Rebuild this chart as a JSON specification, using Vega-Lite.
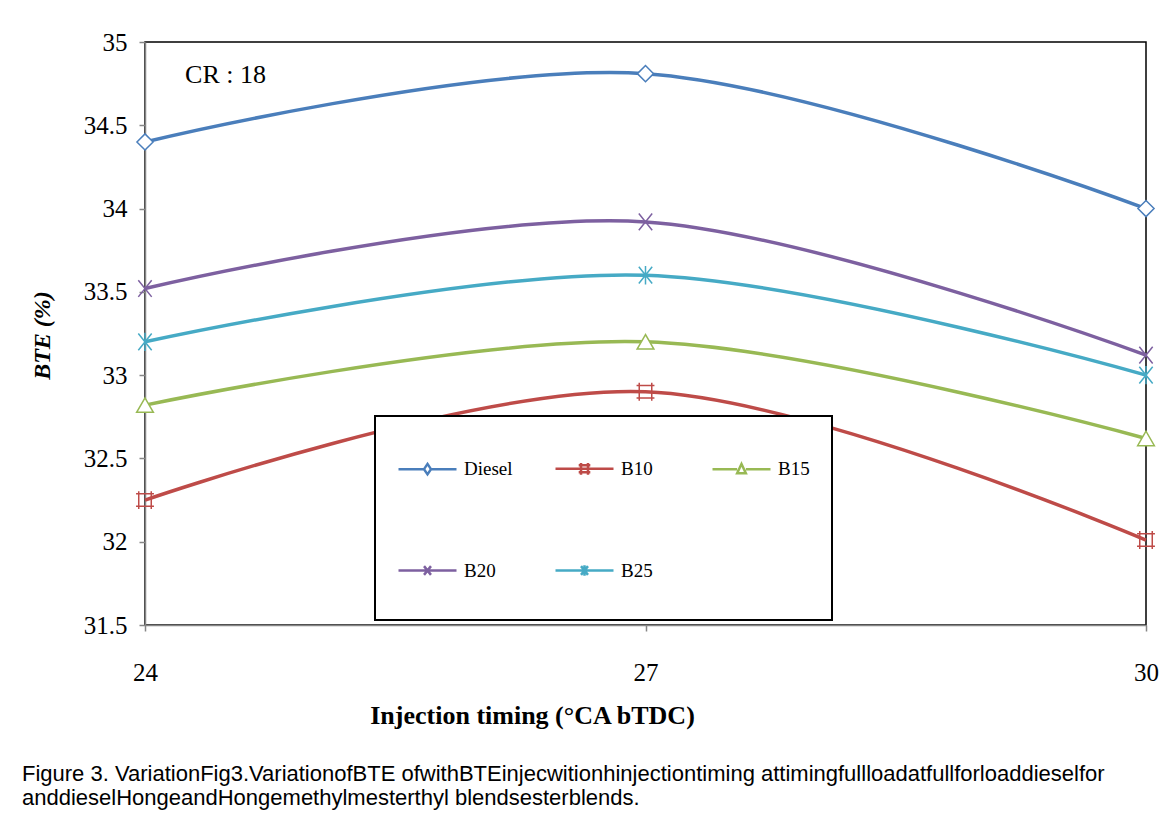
{
  "$schema": "https://vega.github.io/schema/vega-lite/v6.json",
  "autosize": {"type": "none"},
  "padding": {"left": 145, "top": 42, "right": 25, "bottom": 192},
  "width": 1001,
  "height": 583,
  "background": "white",
  "config": {
    "view": {"stroke": "#000000", "strokeWidth": 1.5},
    "font": "Liberation Serif"
  },
  "title": {
    "text": ["Figure 3. VariationFig3.VariationofBTE ofwithBTEinjecwitionhinjectiontiming attimingfullloadatfullforloaddieselfor", "anddieselHongeandHongemethylmesterthyl blendsesterblends."],
    "orient": "bottom",
    "anchor": "start",
    "frame": "group",
    "dx": -123,
    "offset": 36,
    "font": "Liberation Sans",
    "fontSize": 22,
    "fontWeight": "normal",
    "color": "#000000",
    "lineHeight": 24,
    "baseline": "top"
  },
  "data": {
    "values": [
      {"fuel": "Diesel", "timing": 24, "bte": 34.4},
      {"fuel": "Diesel", "timing": 27, "bte": 34.81},
      {"fuel": "Diesel", "timing": 30, "bte": 34.0},
      {"fuel": "B10", "timing": 24, "bte": 32.25},
      {"fuel": "B10", "timing": 27, "bte": 32.9},
      {"fuel": "B10", "timing": 30, "bte": 32.01},
      {"fuel": "B15", "timing": 24, "bte": 32.82},
      {"fuel": "B15", "timing": 27, "bte": 33.2},
      {"fuel": "B15", "timing": 30, "bte": 32.62},
      {"fuel": "B20", "timing": 24, "bte": 33.52},
      {"fuel": "B20", "timing": 27, "bte": 33.92},
      {"fuel": "B20", "timing": 30, "bte": 33.12},
      {"fuel": "B25", "timing": 24, "bte": 33.2},
      {"fuel": "B25", "timing": 27, "bte": 33.6},
      {"fuel": "B25", "timing": 30, "bte": 33.0}
    ]
  },
  "encoding": {
    "x": {
      "field": "timing", "type": "quantitative",
      "scale": {"domain": [24, 30], "nice": false, "zero": false},
      "axis": {
        "values": [24, 27, 30], "format": "d", "grid": false,
        "title": "Injection timing (°CA bTDC)",
        "titleFont": "Liberation Serif", "titleFontSize": 26, "titleFontWeight": "bold", "titleColor": "#000000",
        "titleX": 387, "titleY": 90, "titleBaseline": "middle", "titleAnchor": "middle", "titleAlign": "center",
        "labelFont": "Liberation Serif", "labelFontSize": 25, "labelColor": "#000000", "labelPadding": 29,
        "labelFlush": false,
        "domainColor": "#868686", "domainWidth": 1.5, "tickColor": "#868686", "tickWidth": 1.5, "tickSize": 6
      }
    },
    "y": {
      "field": "bte", "type": "quantitative",
      "scale": {"domain": [31.5, 35], "nice": false, "zero": false},
      "axis": {
        "values": [31.5, 32, 32.5, 33, 33.5, 34, 34.5, 35], "format": "~g", "grid": false,
        "title": "BTE (%)",
        "titleFont": "Liberation Serif", "titleFontSize": 24, "titleFontWeight": "bold", "titleFontStyle": "italic", "titleColor": "#000000",
        "titleX": -103, "titleY": 293, "titleBaseline": "middle", "titleAngle": -90, "titleAlign": "center",
        "labelFont": "Liberation Serif", "labelFontSize": 25, "labelFontWeight": "normal", "labelColor": "#000000", "labelPadding": 12,
        "labelFlush": false,
        "domainColor": "#868686", "domainWidth": 1.5, "tickColor": "#868686", "tickWidth": 1.5, "tickSize": 6
      }
    }
  },
  "layer": [
    {
      "mark": {"type": "line", "interpolate": "cardinal", "strokeWidth": 3.5},
      "encoding": {
        "color": {
          "field": "fuel", "type": "nominal",
          "scale": {"domain": ["Diesel", "B10", "B15", "B20", "B25"], "range": ["#4A7EBB", "#BE4B48", "#98B954", "#7D60A0", "#46AAC5"]},
          "legend": {
            "orient": "none", "legendX": 230, "legendY": 374,
            "columns": 3, "direction": "horizontal", "gridAlign": "all",
            "title": " ", "titleOrient": "bottom", "titleFontSize": 1, "titlePadding": 16,
            "padding": 22, "strokeColor": "#000000", "fillColor": "white",
            "symbolSize": 3364, "symbolStrokeWidth": 2.5, "symbolFillColor": "white",
            "symbolType": "M-1,0H1",
            "labelFont": "Liberation Serif", "labelFontSize": 19, "labelColor": "#000000", "labelOffset": 6,
            "columnPadding": 37, "rowPadding": 60,
            "encode": {
              "legend": {"update": {"strokeWidth": {"value": 2}}},
              "symbols": {"update": {"shape": {"signal": "datum.value === 'Diesel' ? 'M-1,0H-0.12M0.12,0H1M0,-0.18L0.12,0L0,0.18L-0.12,0Z' : datum.value === 'B10' ? 'M-1,0H1M-0.2,-0.12H0.2M-0.2,0.12H0.2M-0.12,-0.2V0.2M0.12,-0.2V0.2' : datum.value === 'B15' ? 'M-1,0H-0.15M0.15,0H1M0,-0.18L0.15,0.14H-0.15Z' : datum.value === 'B20' ? 'M-1,0H1M-0.12,-0.15L0.12,0.15M-0.12,0.15L0.12,-0.15' : 'M-1,0H1M-0.12,-0.15L0.12,0.15M-0.12,0.15L0.12,-0.15M0,-0.18V0.18'"}}}
            }
          }
        }
      }
    },
    {
      "transform": [{"filter": "datum.fuel === 'Diesel'"}],
      "mark": {"type": "point", "shape": "diamond", "filled": false, "fill": "white", "strokeWidth": 1.5, "size": 260, "opacity": 1},
      "encoding": {"color": {"field": "fuel", "type": "nominal", "legend": null}}
    },
    {
      "transform": [{"filter": "datum.fuel === 'B10'"}],
      "mark": {"type": "point", "shape": "M-1,-0.7H1M-1,0.7H1M-0.7,-1V1M0.7,-1V1", "filled": false, "strokeWidth": 1.5, "size": 320, "opacity": 1},
      "encoding": {"color": {"field": "fuel", "type": "nominal", "legend": null}}
    },
    {
      "transform": [{"filter": "datum.fuel === 'B15'"}],
      "mark": {"type": "point", "shape": "triangle-up", "filled": false, "fill": "white", "strokeWidth": 1.5, "size": 280, "opacity": 1},
      "encoding": {"color": {"field": "fuel", "type": "nominal", "legend": null}}
    },
    {
      "transform": [{"filter": "datum.fuel === 'B20'"}],
      "mark": {"type": "point", "shape": "M-0.8,-1L0.8,1M-0.8,1L0.8,-1", "filled": false, "strokeWidth": 1.5, "size": 280, "opacity": 1},
      "encoding": {"color": {"field": "fuel", "type": "nominal", "legend": null}}
    },
    {
      "transform": [{"filter": "datum.fuel === 'B25'"}],
      "mark": {"type": "point", "shape": "M-0.8,-1L0.8,1M-0.8,1L0.8,-1M0,-1.1V1.1", "filled": false, "strokeWidth": 1.5, "size": 280, "opacity": 1},
      "encoding": {"color": {"field": "fuel", "type": "nominal", "legend": null}}
    },
    {
      "transform": [{"filter": "datum.fuel === 'Diesel' && datum.timing === 24"}],
      "mark": {"type": "text", "align": "left", "baseline": "middle", "font": "Liberation Serif", "fontSize": 26, "fill": "#000000", "text": "CR : 18"},
      "encoding": {
        "x": {"datum": 24.24},
        "y": {"datum": 34.8}
      }
    }
  ]
}
